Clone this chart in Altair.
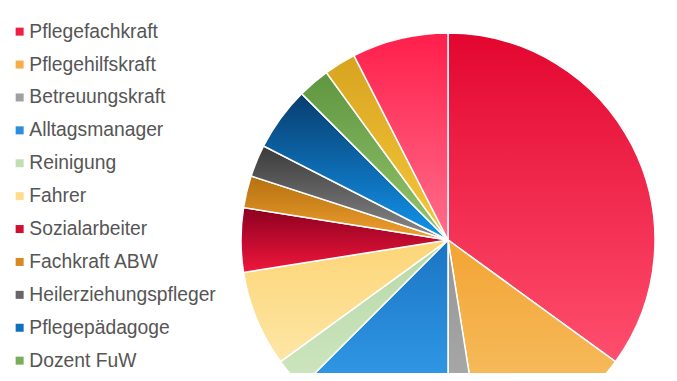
import altair as alt
import pandas as pd

categories = [
    "Pflegefachkraft", "Pflegehilfskraft", "Betreuungskraft", "Alltagsmanager",
    "Reinigung", "Fahrer", "Sozialarbeiter", "Fachkraft ABW",
    "Heilerziehungspfleger", "Pflegepädagoge", "Dozent FuW",
    "Praxisanleiter", "Verwaltung",
]
values = [14, 5, 1, 5, 1, 3, 2, 1, 1, 2, 1, 1, 3]

top_colors = ["#e3062f", "#f3a433", "#949494", "#1b75c4", "#b8d8a8", "#fdd577",
              "#8b0020", "#b5700f", "#3a3a3a", "#083d6e", "#5f9640", "#d8a420", "#ff1f4b"]
bottom_colors = ["#ff4f6e", "#f7c46e", "#b0b0b0", "#3aa8f5", "#cde5bf", "#fde6a6",
                 "#f0163c", "#f0a030", "#8a8a8a", "#1295ee", "#95c46e", "#f5c83a", "#ff6e8c"]
mid_colors = ["#ec1f45", "#f5ae48", "#a0a0a0", "#2a8edc", "#c2dfb2", "#fddc8a",
              "#d0102f", "#d88a20", "#666666", "#1070c0", "#7aad58", "#e8b830", "#ff4a6c"]

df = pd.DataFrame({"cat": categories, "value": values, "idx": list(range(len(categories)))})
total = sum(values)

CX, CY, R = 440, 232, 207

base = alt.Chart(df).transform_window(
    end="sum(value)", sort=[alt.SortField("idx")], frame=[None, 0]
).transform_calculate(start="datum.end - datum.value")

theta_scale = alt.Scale(domain=[0, total])

legend_layer = base.mark_arc(x=CX, y=CY, outerRadius=R, stroke="white", strokeWidth=1.5).encode(
    theta=alt.Theta("start:Q", scale=theta_scale),
    theta2="end:Q",
    color=alt.Color(
        "cat:N",
        scale=alt.Scale(domain=categories, range=mid_colors),
        legend=alt.Legend(
            title=None, orient="none", legendX=2, legendY=14, padding=0,
            symbolType="square", symbolSize=64, symbolStrokeWidth=0,
            labelFontSize=19.3, labelFont="Liberation Sans", labelColor="#555555",
            labelOffset=0, rowPadding=12.9, labelLimit=400,
        ),
    ),
)

layers = [legend_layer]
for i, c in enumerate(categories):
    grad = alt.Gradient(
        gradient="linear",
        stops=[alt.GradientStop(color=top_colors[i], offset=0),
               alt.GradientStop(color=bottom_colors[i], offset=1)],
        x1=0, x2=0, y1=0, y2=1,
    )
    layers.append(
        base.transform_filter(alt.datum.cat == c)
        .mark_arc(x=CX, y=CY, outerRadius=R, fill=grad, stroke="white", strokeWidth=1.5)
        .encode(theta=alt.Theta("start:Q", scale=theta_scale), theta2="end:Q")
    )

chart = alt.layer(*layers).properties(
    width=661, height=365, autosize="none", padding=0
).configure_view(stroke=None)

chart.save("out.html", embed_options={"renderer": "svg", "actions": False})
